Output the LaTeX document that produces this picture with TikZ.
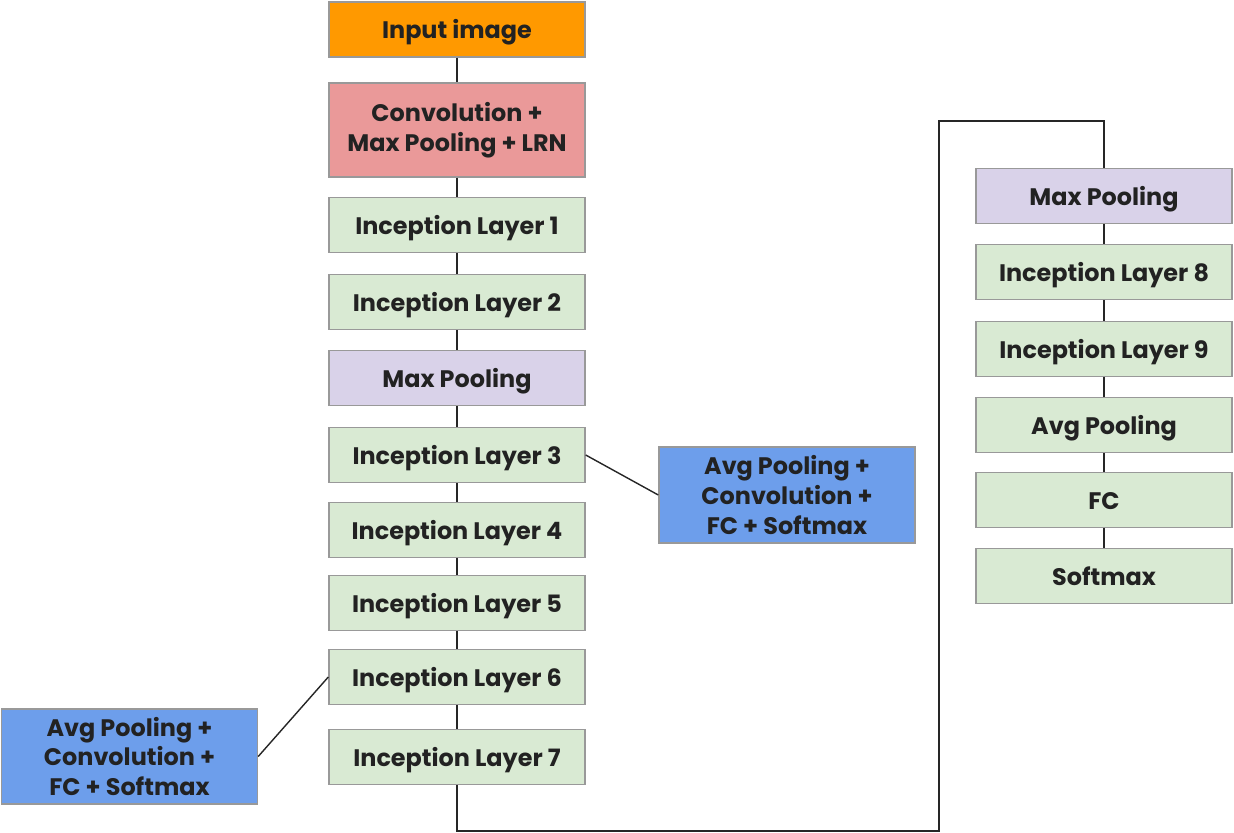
\documentclass[tikz,border=0pt]{standalone}
\usepackage{fontspec}
\setmainfont{Poppins}
\usepackage{tikz}

\definecolor{orangebox}{HTML}{FF9900}
\definecolor{pinkbox}{HTML}{EA9999}
\definecolor{greenbox}{HTML}{D9EAD3}
\definecolor{lilacbox}{HTML}{D9D2E9}
\definecolor{bluebox}{HTML}{6D9EEB}
\definecolor{boxline}{HTML}{999999}
\definecolor{textdark}{HTML}{222222}

\begin{document}
\begin{tikzpicture}[
    layer/.style={shape=rectangle, draw=boxline, line width=0.8pt, minimum width=5.12cm,
                  minimum height=1.1cm, align=center, text=textdark,
                  font=\fontsize{13.6}{17}\selectfont\bfseries, inner sep=2pt},
    oneline/.style={layer, text height=13pt, text depth=2.4pt},
    wire/.style={line width=0.8pt, black!85}
  ]
                        \useasboundingbox (0,0) rectangle (24.68,-16.66);

                        % main column
                        \node[oneline, fill=orangebox] (input) at (9.14,-0.59) {Input image};
                        \node[layer, fill=pinkbox, minimum height=1.88cm] (conv) at (9.14,-2.6) {Convolution +\\Max Pooling + LRN};
                        \node[oneline, fill=greenbox] (il1) at (9.14,-4.5) {Inception Layer 1};
                        \node[oneline, fill=greenbox] (il2) at (9.14,-6.04) {Inception Layer 2};
                        \node[oneline, fill=lilacbox] (mp1) at (9.14,-7.56) {Max Pooling};
                        \node[oneline, fill=greenbox] (il3) at (9.14,-9.1) {Inception Layer 3};
                        \node[oneline, fill=greenbox] (il4) at (9.14,-10.6) {Inception Layer 4};
                        \node[oneline, fill=greenbox] (il5) at (9.14,-12.06) {Inception Layer 5};
                        \node[oneline, fill=greenbox] (il6) at (9.14,-13.54) {Inception Layer 6};
                        \node[oneline, fill=greenbox] (il7) at (9.14,-15.14) {Inception Layer 7};

                        % auxiliary classifiers
                        \node[layer, fill=bluebox, minimum height=1.92cm] (aux1) at (15.74,-9.9) {Avg Pooling +\\Convolution +\\FC + Softmax};
                        \node[layer, fill=bluebox, minimum height=1.9cm] (aux2) at (2.59,-15.13) {Avg Pooling +\\Convolution +\\FC + Softmax};

                        % second column
                        \node[oneline, fill=lilacbox] (mp2) at (22.08,-3.92) {Max Pooling};
                        \node[oneline, fill=greenbox] (il8) at (22.08,-5.44) {Inception Layer 8};
                        \node[oneline, fill=greenbox] (il9) at (22.08,-6.98) {Inception Layer 9};
                        \node[oneline, fill=greenbox] (avg) at (22.08,-8.5) {Avg Pooling};
                        \node[oneline, fill=greenbox] (fc) at (22.08,-10) {FC};
                        \node[oneline, fill=greenbox] (soft) at (22.08,-11.52) {Softmax};

                        \coordinate (low) at (9.14,-16.62);
                        \coordinate (high) at (18.78,-2.42);

                        \path	[wire]	(input)	edge	(conv)
                        (conv)	edge	(il1)
                        (il1)	edge	(il2)
                        (il2)	edge	(mp1)
                        (mp1)	edge	(il3)
                        (il3)	edge	(il4)
                        (il4)	edge	(il5)
                        (il5)	edge	(il6)
                        (il6)	edge	(il7)
                        (il3.east)	edge	(aux1.west)
                        (il6.west)	edge	(aux2.east)
                        (mp2)	edge	(il8)
                        (il8)	edge	(il9)
                        (il9)	edge	(avg)
                        (avg)	edge	(fc)
                        (fc)	edge	(soft);

                        \draw	[wire]	(il7.south) -- (low) -| (high) -| (mp2.north);
                    \end{tikzpicture}
\end{document}
